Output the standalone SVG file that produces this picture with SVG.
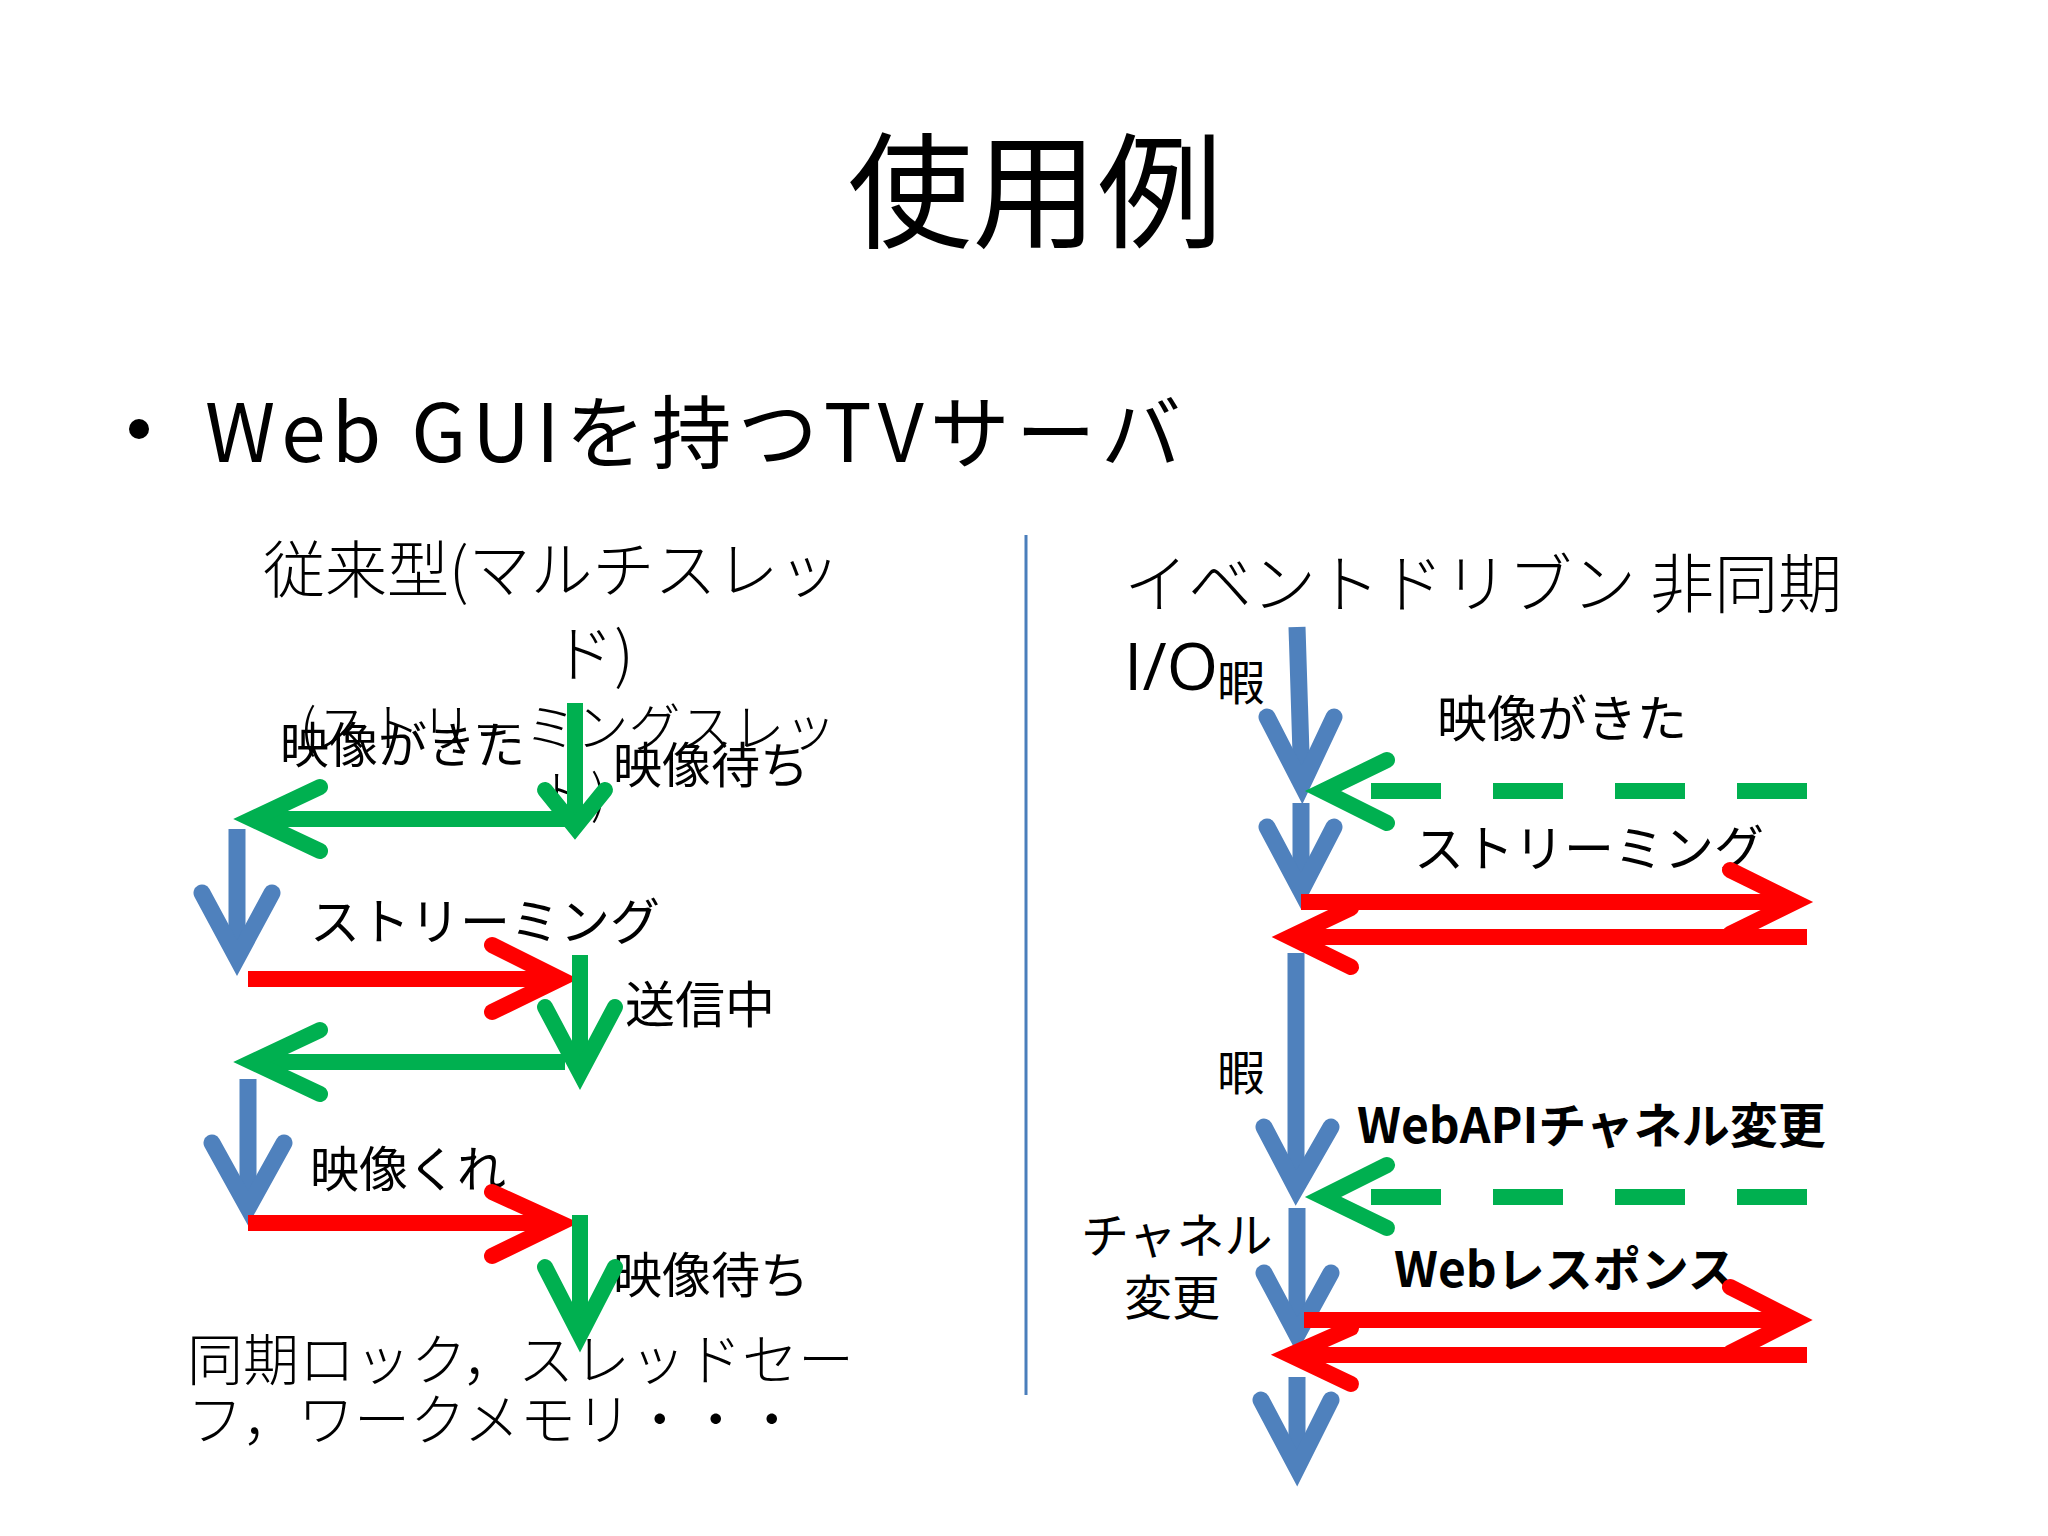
<svg xmlns="http://www.w3.org/2000/svg" width="2048" height="1536" viewBox="0 0 2048 1536">
<style>
.t{font-family:"Noto Sans CJK JP","Liberation Sans",sans-serif;fill:#000}
.b{stroke:#4f81bd;stroke-width:17;fill:none;stroke-linecap:butt}
.g{stroke:#00b050;stroke-width:16;fill:none}
.r{stroke:#ff0000;stroke-width:16;fill:none}
.h{stroke-linecap:round;stroke-linejoin:miter}
.d{stroke-dasharray:70 52}
</style>
<rect width="2048" height="1536" fill="#fff"/>
<g id="title"><text class="t" x="1035" y="238" font-size="125" text-anchor="middle">使用例</text></g>
<g id="bullet"><circle cx="139" cy="429" r="10" fill="#000"/><text class="t" x="205" y="462" font-size="80" textLength="976" lengthAdjust="spacing">Web GUIを持つTVサーバ</text></g>
<g id="divider"><line x1="1026" y1="535" x2="1026" y2="1395" stroke="#4a7ebb" stroke-width="3"/></g>
<g id="left-labels">
<text class="t" x="263" y="593" font-size="62" font-weight="300">従来型(マルチスレッ</text>
<text class="t" x="593" y="677" font-size="62" font-weight="300" text-anchor="middle">ド)</text>
<text class="t" x="300" y="747" font-size="52" font-weight="300" fill="#333">(ストリーミングスレッ</text>
<text class="t" x="573" y="813" font-size="52" font-weight="300" text-anchor="middle" fill="#333">ド)</text>
<text class="t" x="280" y="763" font-size="49">映像がきた</text>
<text class="t" x="613" y="783" font-size="49">映像待ち</text>
<text class="t" x="310" y="940" font-size="50">ストリーミング</text>
<text class="t" x="625" y="1023" font-size="50">送信中</text>
<text class="t" x="310" y="1187" font-size="49">映像くれ</text>
<text class="t" x="613" y="1293" font-size="49">映像待ち</text>
<text class="t" x="187" y="1380" font-size="56" font-weight="300">同期ロック，スレッドセー</text>
<text class="t" x="187" y="1440" font-size="56" font-weight="300">フ，ワークメモリ・・・</text>
</g>
<g id="right-labels">
<text class="t" x="1124" y="607" font-size="64" font-weight="300">イベントドリブン 非同期</text>
<text x="1124" y="690" font-size="66" font-family="Open Sans,Liberation Sans,sans-serif">I/O</text>
<text class="t" x="1217" y="700" font-size="48">暇</text>
<text class="t" x="1437" y="737" font-size="50">映像がきた</text>
<text class="t" x="1414" y="867" font-size="50">ストリーミング</text>
<text class="t" x="1217" y="1090" font-size="48">暇</text>
<text class="t" x="1357" y="1143" font-size="48" font-weight="bold">WebAPIチャネル変更</text>
<text class="t" x="1081" y="1253" font-size="48">チャネル</text>
<text class="t" x="1124" y="1315" font-size="48">変更</text>
<text class="t" x="1394" y="1287" font-size="48" font-weight="bold">Webレスポンス</text>
</g>
<g id="connectors">
<path class="g" d="M575 703V827"/><path class="g h" d="M545 790L575 827L605 790"/>
<path class="g" d="M565 819H252"/><path class="g h" d="M320 787L252 819L320 851"/>
<path class="b" d="M237 829V958"/><path class="b h" d="M202 893L237 958L272 893"/>
<path class="r" d="M248 979H560"/><path class="r h" d="M492 945L560 979L492 1012"/>
<path class="g" d="M580 955V1073"/><path class="g h" d="M545 1007L580 1073L615 1007"/>
<path class="g" d="M565 1062H252"/><path class="g h" d="M320 1030L252 1062L320 1094"/>
<path class="b" d="M248 1079V1208"/><path class="b h" d="M212 1143L248 1208L284 1143"/>
<path class="r" d="M248 1223H560"/><path class="r h" d="M492 1192L560 1223L492 1256"/>
<path class="g" d="M580 1215V1335"/><path class="g h" d="M545 1267L580 1335L615 1267"/>
<path class="b" d="M1297 627L1302 785"/><path class="b h" d="M1267 717L1302 785L1334 717"/>
<path class="g d" d="M1807 791H1340"/><path class="g h" d="M1387 760L1323 791L1387 823"/>
<path class="b" d="M1301 803V891"/><path class="b h" d="M1267 827L1301 891L1334 827"/>
<path class="r" d="M1301 902H1795"/><path class="r h" d="M1730 870L1795 902L1730 934"/>
<path class="r" d="M1807 937H1290"/><path class="r h" d="M1351 908L1290 937L1351 967"/>
<path class="b" d="M1296 953V1188"/><path class="b h" d="M1264 1127L1296 1188L1331 1127"/>
<path class="g d" d="M1807 1197H1340"/><path class="g h" d="M1387 1165L1323 1197L1387 1228"/>
<path class="b" d="M1297 1208V1335"/><path class="b h" d="M1264 1273L1297 1335L1331 1273"/>
<path class="r" d="M1304 1320H1795"/><path class="r h" d="M1730 1287L1795 1320L1730 1353"/>
<path class="r" d="M1807 1355H1290"/><path class="r h" d="M1351 1328L1290 1355L1351 1384"/>
<path class="b" d="M1297 1377V1468"/><path class="b h" d="M1261 1400L1297 1468L1331 1400"/>
</g>
</svg>
